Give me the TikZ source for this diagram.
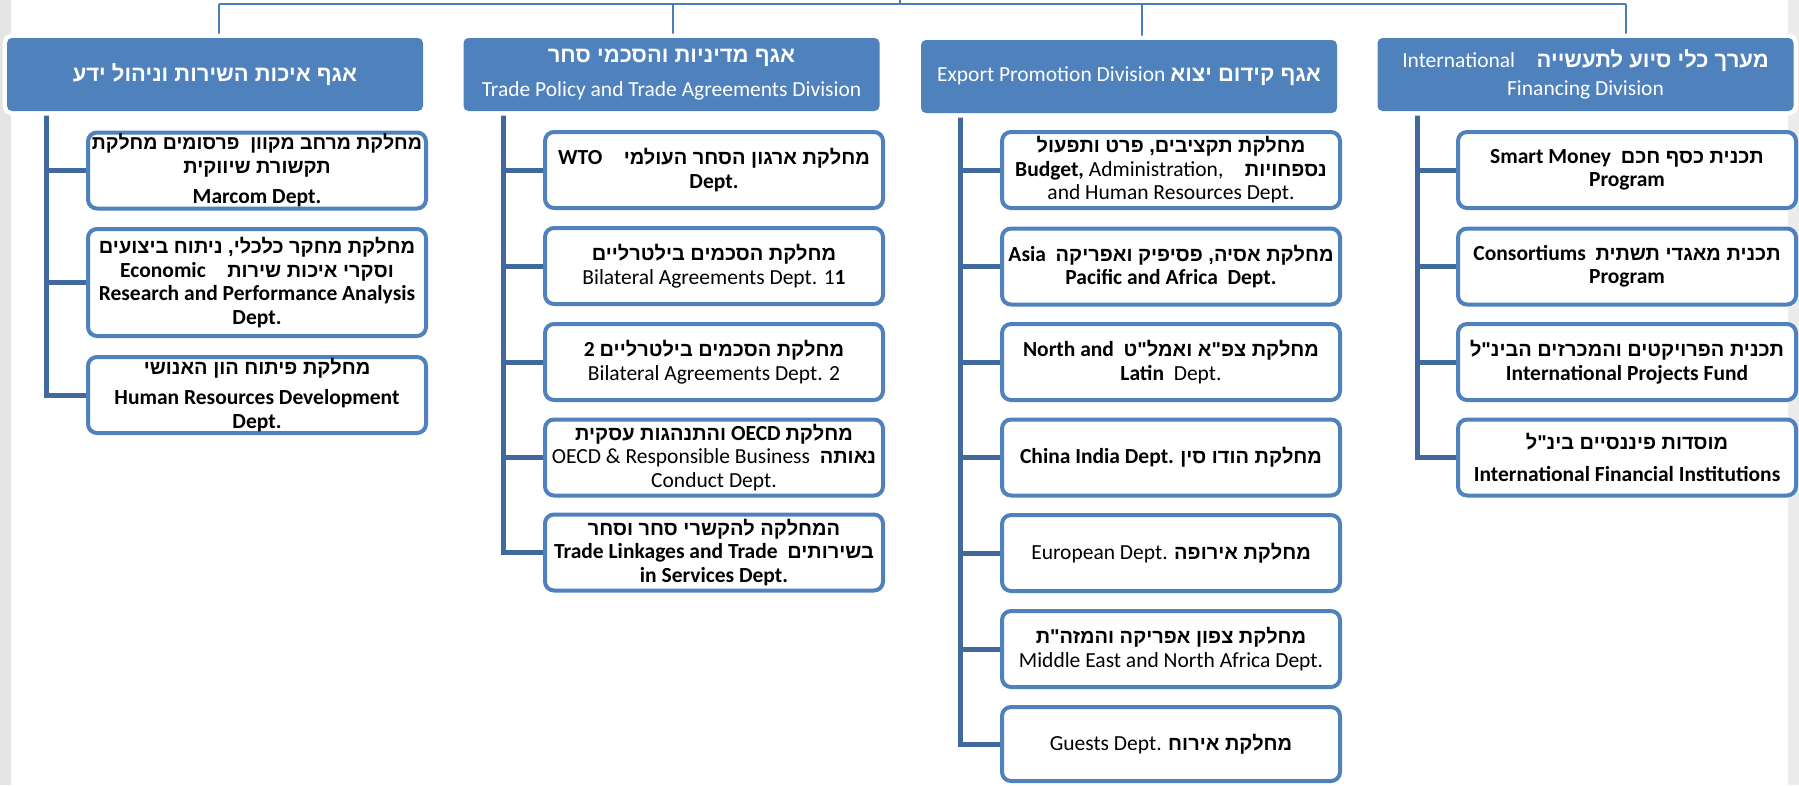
\documentclass[tikz,border=0pt]{standalone}
\usepackage{fontspec}
\setmainfont{Carlito}
\newfontfamily\hebfont[Script=Hebrew]{Liberation Sans}
\TeXXeTstate=1
\newcommand{\hebb}[1]{{\hebfont\bfseries\fontsize{20}{23.5}\selectfont\beginR #1\endR}}
\newcommand{\hebt}[1]{{\hebfont\bfseries\fontsize{22}{23.5}\selectfont\beginR #1\endR}}
\definecolor{divblue}{HTML}{4F81BD}
\definecolor{boxblue}{HTML}{4F81BD}
\definecolor{trunkblue}{HTML}{41699D}
\definecolor{busblue}{HTML}{4A7EBB}
\definecolor{stripgray}{HTML}{E4E4E4}
\pgfdeclarelayer{bg}
\pgfsetlayers{bg,main}
\begin{document}
\begin{tikzpicture}[x=1pt,y=-1pt,
  divbox/.style={fill=divblue, rounded corners=5pt, preaction={draw=white, line width=9pt},
    minimum height=73pt, minimum width=416pt, inner sep=0pt, align=center, text=white,
    font=\fontsize{21.5}{23.5}\selectfont},
  dept/.style={draw=boxblue, fill=white, line width=4pt, rounded corners=9pt,
    minimum width=338pt, minimum height=76pt, inner sep=0pt, align=center,
    font=\fontsize{21.5}{23.5}\selectfont},
  busline/.style={draw=busblue, line width=1.6pt},
  trunk/.style={draw=trunkblue, line width=5pt},
]
\useasboundingbox (0,0) rectangle (1799,785);
\fill[stripgray] (0,0) rectangle (11,785);
\fill[stripgray!70!white] (1788,0) rectangle (1799,785);

% divisions
\node[divbox] (d1) at (215,74.5) {\hebt{אגף איכות השירות וניהול ידע}};
\node[divbox] (d2) at (671.5,74.5) {\hebt{אגף מדיניות והסכמי סחר}\\[10pt] Trade Policy and Trade Agreements Division};
\node[divbox] (d3) at (1129,76.5) {Export Promotion Division \hebt{אגף קידום יצוא}};
\node[divbox] (d4) at (1585.5,74.5) {International\quad\hebt{מערך כלי סיוע לתעשייה}\\[4pt] Financing Division};

% column 1
\node[dept] (c11) at (257,170.5) {{\hebfont\bfseries\fontsize{19.5}{23.5}\selectfont\beginR מחלקת מרחב מקוון \ פרסומים מחלקת\endR}\\ \hebb{תקשורת שיווקית}\\[7pt] \textbf{Marcom Dept.}};
\node[dept, minimum height=107pt] (c12) at (257,282.5) {\hebb{מחלקת מחקר כלכלי, ניתוח ביצועים}\\ \textbf{Economic}\quad\hebb{וסקרי איכות שירות}\\ \textbf{Research and Performance Analysis}\\ \textbf{Dept.}};
\node[dept] (c13) at (257,395) {\hebb{מחלקת פיתוח הון האנושי}\\[7pt] \textbf{Human Resources Development}\\ \textbf{Dept.}};

% column 2
\node[dept] (c21) at (714,170) {\textbf{WTO}\quad\hebb{מחלקת ארגון הסחר העולמי}\\ \textbf{Dept.}};
\node[dept] (c22) at (714,266) {\hebb{מחלקת הסכמים בילטרליים}\\ Bilateral Agreements Dept. 1\textbf{1}};
\node[dept] (c23) at (714,362) {\textbf{2} \hebb{מחלקת הסכמים בילטרליים}\\ Bilateral Agreements Dept. 2};
\node[dept] (c24) at (714,457.5) {\hebb{והתנהגות עסקית} \textbf{OECD} \hebb{מחלקת}\\ OECD \& Responsible Business\ \ \hebb{נאותה}\\ Conduct Dept.};
\node[dept] (c25) at (714,552.5) {\hebb{המחלקה להקשרי סחר וסחר}\\ \textbf{Trade Linkages and Trade}\ \ \hebb{בשירותים}\\ \textbf{in Services Dept.}};

% column 3
\node[dept] (c31) at (1171,170) {\hebb{מחלקת תקציבים, פרט ותפעול}\\ \textbf{Budget,} Administration,\quad\hebb{נספחויות}\\ and Human Resources Dept.};
\node[dept] (c32) at (1171,266.5) {\textbf{Asia}\ \ \hebb{מחלקת אסיה, פסיפיק ואפריקה}\\ \textbf{Pacific and Africa\ \ Dept.}};
\node[dept] (c33) at (1171,362) {\textbf{North and}\ \ \hebb{מחלקת צפ"א ואמל"ט}\\ \textbf{Latin}\ \ Dept.};
\node[dept] (c34) at (1171,457.5) {\textbf{China India Dept.} \hebb{מחלקת הודו סין}};
\node[dept] (c35) at (1171,553) {European Dept. \hebb{מחלקת אירופה}};
\node[dept] (c36) at (1171,649) {\hebb{מחלקת צפון אפריקה והמזה"ת}\\ Middle East and North Africa Dept.};
\node[dept, minimum height=74pt] (c37) at (1171,744) {Guests Dept. \hebb{מחלקת אירוח}};

% column 4
\node[dept] (c41) at (1627,170) {\textbf{Smart Money}\ \ \hebb{תכנית כסף חכם}\\ \textbf{Program}};
\node[dept] (c42) at (1627,266.5) {\textbf{Consortiums}\ \ \hebb{תכנית מאגדי תשתית}\\ \textbf{Program}};
\node[dept] (c43) at (1627,362) {\hebb{תכנית הפרויקטים והמכרזים הבינ"ל}\\ \textbf{International Projects Fund}};
\node[dept] (c44) at (1627,457.5) {\hebb{מוסדות פיננסיים בינ"ל}\\[9pt] \textbf{International Financial Institutions}};

\begin{pgfonlayer}{bg}
\coordinate (root) at (900,0);
\coordinate (bus) at (900,4);
\coordinate (b1) at (219,4);
\coordinate (b2) at (673,4);
\coordinate (b3) at (1142,4);
\coordinate (b4) at (1626,4);
\draw[busline] (root) -- (bus);
\draw[busline] (b1) -- (b4);
\draw[busline] (b1) -- (b1 |- d1.north);
\draw[busline] (b2) -- (b2 |- d2.north);
\draw[busline] (b3) -- (b3 |- d3.north);
\draw[busline] (b4) -- (b4 |- d4.north);

\coordinate (t1) at (46,111);
\coordinate (t2) at (503,111);
\coordinate (t3) at (960,113);
\coordinate (t4) at (1417,111);
\draw[trunk] (t1) |- (c13.west);
\draw[trunk] (t1 |- c11.west) -- (c11.west);
\draw[trunk] (t1 |- c12.west) -- (c12.west);
\draw[trunk] (t2) |- (c25.west);
\foreach \n in {c21,c22,c23,c24} \draw[trunk] (t2 |- \n.west) -- (\n.west);
\draw[trunk] (t3) |- (c37.west);
\foreach \n in {c31,c32,c33,c34,c35,c36} \draw[trunk] (t3 |- \n.west) -- (\n.west);
\draw[trunk] (t4) |- (c44.west);
\foreach \n in {c41,c42,c43} \draw[trunk] (t4 |- \n.west) -- (\n.west);
\end{pgfonlayer}
\end{tikzpicture}
\end{document}
